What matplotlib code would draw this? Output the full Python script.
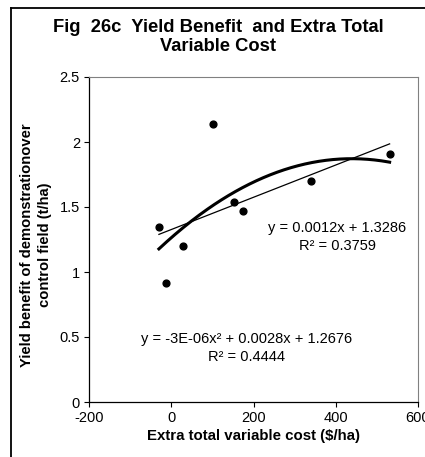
import numpy as np
import matplotlib
matplotlib.use("Agg")
import matplotlib.pyplot as plt
from matplotlib.lines import Line2D

plt.rcParams['font.family'] = ['Liberation Sans', 'DejaVu Sans']
plt.rcParams['axes.unicode_minus'] = False

# extra total variable cost ($/ha) and yield benefit (t/ha)
cost = [-30, -13, 29, 102, 152, 174, 339, 531]
benefit = [1.344, 0.915, 1.198, 2.136, 1.541, 1.469, 1.698, 1.905]

lin_label = "y = 0.0012x + 1.3286\nR\u00b2 = 0.3759"
poly_label = "y = -3E-06x\u00b2 + 0.0028x + 1.2676\nR\u00b2 = 0.4444"

x = np.array(cost, dtype=float)
y = np.array(benefit)

fig = plt.figure(figsize=(4.25, 4.57), dpi=100)
ax = fig.add_axes([89 / 425, 55 / 457, 329 / 425, 325 / 457])

ax.scatter(x, y, s=24, color='black', zorder=3)

# trendlines
xs = np.linspace(x.min(), x.max(), 200)
lin = np.polyfit(x, y, 1)
ax.plot(xs, np.polyval(lin, xs), color='black', lw=0.9)
quad = np.polyfit(x, y, 2)
ax.plot(xs, np.polyval(quad, xs), color='black', lw=2.2)

ax.text(404, 1.27, lin_label, ha='center', va='center', fontsize=10.5,
        linespacing=1.35)
ax.text(182, 0.415, poly_label, ha='center', va='center', fontsize=10.5,
        linespacing=1.4)

ax.set_xlim(-200, 600)
ax.set_ylim(0, 2.5)
ax.set_xticks([-200, 0, 200, 400, 600])
ax.set_yticks([0, 0.5, 1, 1.5, 2, 2.5])
ax.set_yticklabels(['0', '0.5', '1', '1.5', '2', '2.5'])
ax.tick_params(direction='out', length=3.5, width=0.8, labelsize=10.5, pad=3)

for s in ['top', 'right']:
    ax.spines[s].set_color('#808080')
    ax.spines[s].set_linewidth(0.8)
for s in ['left', 'bottom']:
    ax.spines[s].set_color('black')
    ax.spines[s].set_linewidth(0.9)

ax.set_xlabel("Extra total variable cost ($/ha)", fontsize=10.8,
              fontweight='bold', labelpad=3)

fig.text(36 / 425, 1 - 245 / 457,
         "Yield benefit of demonstrationover\ncontrol field (t/ha)",
         rotation=90, ha='center', va='center', fontsize=10.6,
         fontweight='bold', linespacing=1.45)

fig.text(218 / 425, 1 - 37 / 457,
         "Fig  26c  Yield Benefit  and Extra Total\nVariable Cost",
         ha='center', va='center', fontsize=13.2, fontweight='bold',
         linespacing=1.15)

# chart area border (left and top visible)
fig.add_artist(Line2D([10.5 / 425, 10.5 / 425], [0, 449 / 457],
                      color='black', lw=1.3, transform=fig.transFigure))
fig.add_artist(Line2D([10.5 / 425, 1], [449 / 457, 449 / 457],
                      color='black', lw=1.3, transform=fig.transFigure))

fig.savefig("out.png", dpi=100)
